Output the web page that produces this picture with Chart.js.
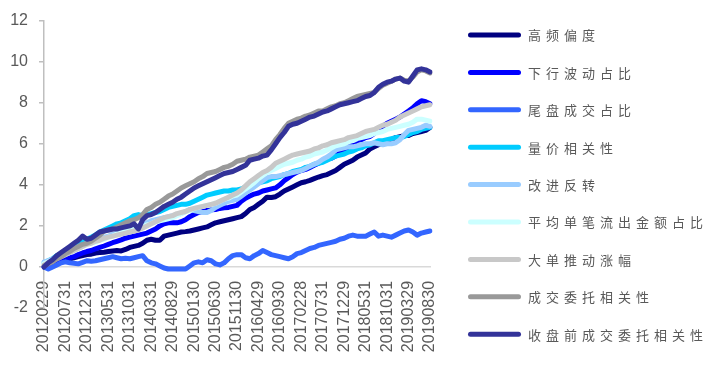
<!DOCTYPE html>
<html><head><meta charset="utf-8">
<script src="https://cdn.jsdelivr.net/npm/chart.js@4.4.0/dist/chart.umd.min.js"></script>
<style>html,body{margin:0;padding:0;background:#fff;}#wrap{width:711px;height:372px;position:relative}</style>
</head><body><div id="wrap"><canvas id="c" width="711" height="372"></canvas></div>
<script>
const categories = [
"20120229","20120330","20120427","20120531","20120629","20120731","20120831","20120928","20121031","20121130","20121231",
"20130131","20130228","20130329","20130426","20130531","20130628","20130731","20130830","20130930","20131031","20131129","20131231",
"20140130","20140228","20140331","20140430","20140530","20140630","20140731","20140829","20140930","20141031","20141128","20141231",
"20150130","20150227","20150331","20150430","20150529","20150630","20150731","20150831","20150930","20151030","20151130","20151231",
"20160129","20160229","20160331","20160429","20160531","20160630","20160729","20160831","20160930","20161031","20161130","20161230",
"20170126","20170228","20170331","20170428","20170531","20170630","20170731","20170831","20170929","20171031","20171130","20171229",
"20180131","20180228","20180330","20180427","20180531","20180629","20180731","20180831","20180928","20181031","20181130","20181228",
"20190131","20190228","20190329","20190430","20190531","20190628","20190731","20190830"];

const seriesNames = ["高频偏度","下行波动占比","尾盘成交占比","量价相关性","改进反转","平均单笔流出金额占比","大单推动涨幅","成交委托相关性","收盘前成交委托相关性"];

const gaoPinPianDu = [
0,0.08,0.15,0.2,0.25,0.3,0.38,0.45,0.5,0.55,
0.6,0.62,0.68,0.7,0.72,0.75,0.78,0.8,0.78,0.85,
0.95,1.0,1.05,1.15,1.3,1.35,1.3,1.3,1.5,1.55,
1.6,1.65,1.7,1.72,1.75,1.8,1.85,1.9,1.95,2.05,
2.15,2.2,2.25,2.3,2.35,2.4,2.45,2.6,2.8,2.9,
3.05,3.2,3.4,3.38,3.42,3.55,3.7,3.8,3.9,4.0,
4.1,4.15,4.22,4.3,4.38,4.45,4.5,4.6,4.7,4.85,
5.0,5.1,5.2,5.35,5.45,5.55,5.75,5.85,5.95,6.05,
6.15,6.2,6.3,6.35,6.4,6.4,6.5,6.55,6.6,6.65,
6.8];

const xiaXingBoDong = [
0,0.05,0.15,0.2,0.28,0.35,0.45,0.5,0.6,0.68,
0.75,0.8,0.88,0.95,1.02,1.1,1.18,1.25,1.32,1.4,
1.45,1.5,1.55,1.6,1.65,1.75,1.85,2.0,2.1,2.15,
2.15,2.15,2.2,2.3,2.45,2.55,2.65,2.7,2.75,2.78,
2.8,2.85,2.88,2.9,2.95,3.0,3.2,3.35,3.45,3.55,
3.6,3.7,3.75,3.8,3.85,4.0,4.2,4.35,4.5,4.62,
4.7,4.75,4.85,4.95,5.05,5.15,5.25,5.3,5.4,5.55,
5.7,5.85,6.0,6.15,6.2,6.3,6.35,6.5,6.7,6.85,
7.0,7.1,7.2,7.3,7.45,7.6,7.75,7.95,8.1,8.05,
7.95];

const weiPanChengJiao = [
0,-0.1,0.0,0.1,0.2,0.25,0.2,0.18,0.15,0.22,
0.3,0.28,0.3,0.35,0.4,0.45,0.5,0.45,0.4,0.42,
0.4,0.45,0.5,0.55,0.3,0.2,0.15,0.05,-0.05,-0.1,
-0.1,-0.1,-0.1,-0.1,0.05,0.2,0.25,0.2,0.35,0.3,
0.15,0.1,0.2,0.4,0.55,0.6,0.6,0.45,0.4,0.55,
0.65,0.8,0.7,0.6,0.55,0.5,0.45,0.4,0.5,0.65,
0.7,0.8,0.9,0.95,1.05,1.1,1.15,1.2,1.25,1.35,
1.4,1.5,1.55,1.5,1.5,1.5,1.6,1.7,1.5,1.55,
1.5,1.45,1.55,1.65,1.75,1.8,1.7,1.55,1.65,1.7,
1.75];

const liangJiaXiangGuan = [
0.2,0.3,0.4,0.55,0.65,0.8,0.9,1.0,1.1,1.2,
1.35,1.45,1.55,1.7,1.8,1.9,2.0,2.1,2.15,2.25,
2.35,2.5,2.55,2.5,2.55,2.6,2.65,2.7,2.8,2.9,
2.95,3.0,3.05,3.05,3.1,3.2,3.3,3.4,3.5,3.55,
3.6,3.65,3.7,3.7,3.75,3.75,3.8,3.9,4.0,4.05,
4.1,4.15,4.2,4.3,4.35,4.4,4.5,4.55,4.65,4.7,
4.75,4.85,4.9,5.0,5.05,5.1,5.2,5.3,5.4,5.45,
5.5,5.6,5.65,5.75,5.8,5.9,5.95,6.05,6.15,6.15,
6.2,6.25,6.3,6.3,6.35,6.45,6.55,6.6,6.7,6.75,
6.8];

const gaiJinFanZhuan = [
0.25,0.3,0.4,0.5,0.6,0.7,0.78,0.85,0.95,1.05,
1.15,1.2,1.3,1.35,1.45,1.5,1.6,1.65,1.75,1.8,
1.85,1.95,2.0,2.1,2.15,2.25,2.3,2.35,2.4,2.45,
2.5,2.55,2.6,2.7,2.8,2.75,2.7,2.65,2.65,2.75,
2.9,3.0,3.1,3.2,3.25,3.3,3.45,3.6,3.75,3.9,
4.05,4.2,4.35,4.4,4.4,4.45,4.5,4.55,4.6,4.65,
4.7,4.8,4.9,5.0,5.1,5.25,5.35,5.5,5.7,5.75,
5.8,5.85,5.85,5.9,5.95,6.0,6.0,6.05,6.0,5.95,
6.0,6.0,6.05,6.2,6.45,6.65,6.7,6.75,6.8,6.9,
6.85];

const pingJunDanBi = [
0.15,0.25,0.35,0.45,0.55,0.62,0.7,0.8,0.9,1.0,
1.1,1.15,1.2,1.3,1.35,1.45,1.5,1.6,1.7,1.75,
1.8,1.85,1.9,1.95,2.05,2.1,2.2,2.25,2.3,2.35,
2.4,2.5,2.6,2.7,2.75,2.85,2.9,2.95,3.0,3.05,
3.1,3.2,3.3,3.35,3.45,3.5,3.65,3.8,3.95,4.1,
4.3,4.45,4.6,4.7,4.8,4.9,5.0,5.05,5.1,5.2,
5.25,5.35,5.4,5.5,5.55,5.6,5.7,5.8,5.9,5.95,
6.0,6.1,6.15,6.25,6.3,6.35,6.4,6.5,6.55,6.6,
6.7,6.75,6.8,6.85,6.9,6.95,7.05,7.2,7.2,7.15,
7.1];

const daDanTuiDong = [
0.1,0.2,0.3,0.4,0.5,0.6,0.7,0.8,0.9,1.0,
1.1,1.15,1.25,1.3,1.4,1.45,1.5,1.55,1.6,1.65,
1.7,1.75,1.8,1.9,2.0,2.1,2.2,2.3,2.4,2.45,
2.5,2.6,2.65,2.7,2.8,2.85,2.9,2.95,3.0,3.05,
3.1,3.2,3.3,3.4,3.5,3.6,3.75,3.95,4.15,4.3,
4.45,4.6,4.7,4.85,5.05,5.15,5.25,5.35,5.45,5.5,
5.55,5.6,5.65,5.75,5.8,5.9,5.95,6.05,6.1,6.15,
6.2,6.3,6.35,6.4,6.5,6.6,6.65,6.7,6.8,6.9,
6.95,7.05,7.15,7.3,7.4,7.5,7.6,7.7,7.8,7.85,
7.9];

const chengJiaoWeiTuo = [
0.05,0.15,0.25,0.4,0.5,0.65,0.75,0.9,1.0,1.1,
1.15,1.25,1.4,1.55,1.75,1.8,1.85,1.95,2.05,2.15,
2.25,2.3,2.4,2.55,2.8,2.9,3.05,3.15,3.3,3.45,
3.55,3.7,3.85,3.95,4.05,4.15,4.3,4.4,4.55,4.6,
4.65,4.75,4.85,4.9,5.0,5.15,5.2,5.25,5.35,5.4,
5.45,5.6,5.75,5.9,6.2,6.45,6.75,7.0,7.1,7.2,
7.25,7.35,7.4,7.5,7.6,7.6,7.7,7.8,7.85,7.95,
8.0,8.1,8.2,8.3,8.35,8.4,8.45,8.5,8.7,8.85,
8.95,9.05,9.15,9.2,9.1,9.05,9.25,9.5,9.6,9.55,
9.45];

const shouPanQianWeiTuo = [
0,0.2,0.35,0.55,0.7,0.85,1.0,1.15,1.3,1.5,
1.35,1.4,1.55,1.7,1.75,1.8,1.85,1.85,1.9,1.95,
2.0,2.1,1.85,2.3,2.5,2.55,2.65,2.8,2.95,3.05,
3.15,3.3,3.4,3.55,3.7,3.85,3.95,4.05,4.15,4.25,
4.35,4.45,4.55,4.6,4.65,4.75,4.85,4.95,5.2,5.25,
5.3,5.4,5.45,5.7,6.0,6.3,6.55,6.85,6.95,7.0,
7.1,7.2,7.3,7.35,7.45,7.55,7.6,7.7,7.8,7.9,
7.95,8.0,8.05,8.1,8.2,8.3,8.35,8.5,8.75,8.9,
9.0,9.05,9.15,9.2,9.05,9.0,9.3,9.6,9.65,9.6,
9.5];

const seriesValues = [gaoPinPianDu, xiaXingBoDong, weiPanChengJiao, liangJiaXiangGuan, gaiJinFanZhuan, pingJunDanBi, daDanTuiDong, chengJiaoWeiTuo, shouPanQianWeiTuo];
const seriesColors = ["#000080","#0000FF","#3366FF","#00CCFF","#99CCFF","#CCFFFF","#C8C8C8","#999999","#333399"];

const datasets = seriesNames.map((name, i) => ({
  label: name,
  data: seriesValues[i],
  borderColor: seriesColors[i],
  backgroundColor: seriesColors[i],
  order: seriesNames.length - i,
  fill: false
}));

const sideLegend = {
  id: 'sideLegend',
  afterDraw(chart) {
    const ctx = chart.ctx;
    ctx.save();
    ctx.font = '13px "Noto Sans CJK SC"';
    ctx.textBaseline = 'middle';
    ctx.textAlign = 'left';
    try { ctx.letterSpacing = '5px'; } catch (e) {}
    chart.data.datasets.forEach((ds, i) => {
      const y = 35 + i * 37.4;
      ctx.strokeStyle = ds.borderColor;
      ctx.lineWidth = 5;
      ctx.lineCap = 'round';
      ctx.beginPath();
      ctx.moveTo(470.5, y);
      ctx.lineTo(518.5, y);
      ctx.stroke();
      ctx.fillStyle = '#595959';
      ctx.fillText(ds.label, 528, y + 0.5);
    });
    ctx.restore();
  }
};

new Chart(document.getElementById('c'), {
  type: 'line',
  data: { labels: categories, datasets },
  plugins: [sideLegend],
  options: {
    responsive: false,
    animation: false,
    devicePixelRatio: 1,
    layout: { padding: { left: 0, top: 17, right: 281, bottom: 64 } },
    plugins: { legend: { display: false }, tooltip: { enabled: false } },
    elements: {
      point: { radius: 0, hoverRadius: 0 },
      line: { tension: 0, borderWidth: 5, borderJoinStyle: 'round', borderCapStyle: 'round' }
    },
    scales: {
      x: {
        type: 'category',
        position: { y: 0 },
        offset: false,
        grid: { display: false, drawTicks: false },
        border: { display: true, color: '#D9D9D9', width: 1.5 },
        ticks: {
          autoSkip: false, minRotation: 90, maxRotation: 90, padding: 14,
          color: '#595959', font: { family: '"Liberation Sans", Arial, sans-serif', size: 16 },
          callback: (v, i) => (i % 5 === 0 ? categories[i] : null)
        }
      },
      y: {
        min: -2, max: 12,
        ticks: { stepSize: 2, padding: 11, color: '#595959', font: { family: '"Liberation Sans", Arial, sans-serif', size: 16 } },
        grid: { drawOnChartArea: false, drawTicks: true, tickLength: 5, color: '#BFBFBF', lineWidth: 1.5 },
        border: { display: true, color: '#BFBFBF', width: 1.5 },
        afterFit: s => { s.width = 44; }
      }
    }
  }
});
</script></body></html>
